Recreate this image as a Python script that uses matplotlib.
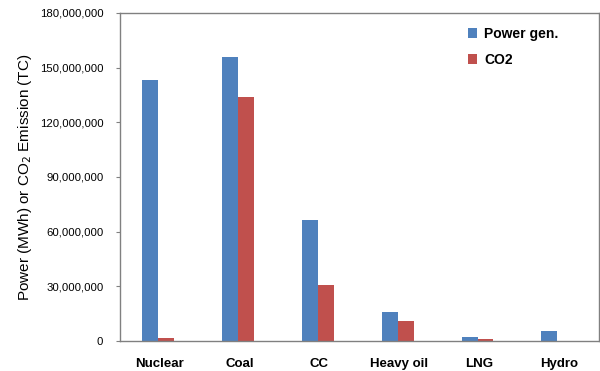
import numpy as np
import matplotlib
matplotlib.use("Agg")
import matplotlib.pyplot as plt
from matplotlib.ticker import FuncFormatter

# DATA ----------------------------------------------------------------------

categories = ["Nuclear", "Coal", "CC", "Heavy oil", "LNG", "Hydro"]
power_gen = [143200000, 155700000, 66200000, 15900000, 2200000, 5300000]
co2 = [1600000, 133900000, 30600000, 11000000, 1100000, 0]

# PLOT ----------------------------------------------------------------------

plt.rcParams["font.family"] = ["Liberation Sans", "DejaVu Sans"]

fig = plt.figure(figsize=(6, 3.71), dpi=100)
ax = fig.add_axes([0.2, 0.081, 0.798, 0.884])

x = np.arange(len(categories))
w = 0.2
ax.bar(x - w / 2 - 0.02, power_gen, w, color="#4F81BD", label="Power gen.")
ax.bar(x + w / 2 - 0.02, co2, w, color="#C0504D", label="CO2")

ax.set_xlim(-0.5, len(categories) - 0.5)
ax.set_ylim(0, 180000000)
ax.set_yticks(np.arange(0, 180000001, 30000000))
ax.yaxis.set_major_formatter(FuncFormatter(lambda v, p: f"{int(v):,}"))
ax.set_xticks(x)
ax.set_xticklabels(categories, fontsize=9.5, fontweight="bold")
ax.tick_params(axis="x", length=0, pad=12)
ax.tick_params(axis="y", labelsize=8.2, length=3, color="#808080", pad=9)

for s in ax.spines.values():
    s.set_color("#808080")
    s.set_linewidth(1)

ax.set_ylabel("Power (MWh) or CO$_2$ Emission (TC)", fontsize=11, labelpad=4)

ax.legend(loc="upper left", bbox_to_anchor=(0.7, 0.995), frameon=False,
          handlelength=0.7, handleheight=0.7, handletextpad=0.5,
          labelspacing=0.85, prop={"weight": "bold", "size": 10})

fig.savefig("out.png", dpi=100)
